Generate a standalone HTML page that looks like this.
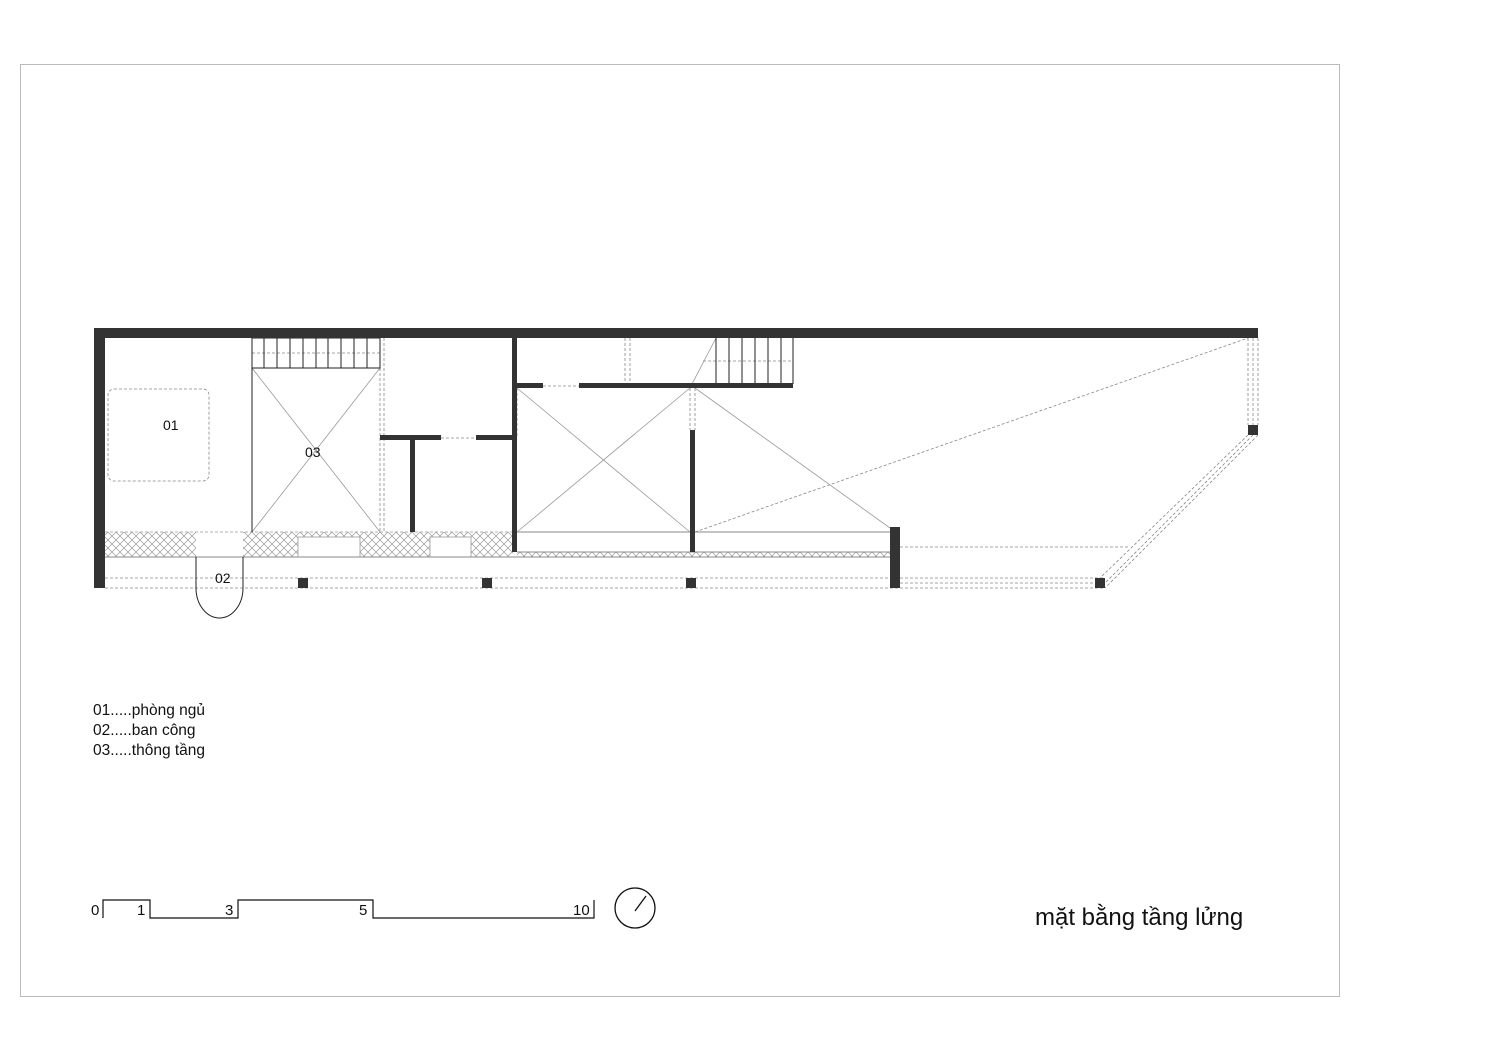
<!DOCTYPE html>
<html><head><meta charset="utf-8"><style>
html,body{margin:0;padding:0;background:#fff}
svg{display:block}
text{font-family:"Liberation Sans",sans-serif;fill:#111}
</style></head><body>
<svg width="1500" height="1060" viewBox="0 0 1500 1060" xmlns="http://www.w3.org/2000/svg">
<defs>
<pattern id="hx" width="8" height="8" patternUnits="userSpaceOnUse">
<path d="M0,0L8,8M8,0L0,8" stroke="#999" stroke-width="0.7"/>
</pattern>
</defs>
<rect x="20.5" y="64.5" width="1319" height="932" fill="none" stroke="#bbb"/>

<rect x="105" y="532" width="408" height="25" fill="url(#hx)"/>
<rect x="196" y="532" width="47" height="25" fill="#fff"/>
<rect x="298" y="537" width="62" height="20" fill="#fff" stroke="#999" stroke-width="0.8"/>
<rect x="430" y="537" width="41" height="20" fill="#fff" stroke="#999" stroke-width="0.8"/>
<rect x="517" y="552" width="373" height="5" fill="url(#hx)"/>
<line x1="105" y1="532" x2="513" y2="532" stroke="#999" stroke-dasharray="3,2" stroke-width="0.8"/>
<line x1="105" y1="557" x2="890" y2="557" stroke="#888" stroke-width="1"/>
<line x1="517" y1="532" x2="890" y2="532" stroke="#888" stroke-width="1"/>
<line x1="517" y1="552" x2="890" y2="552" stroke="#888" stroke-width="1"/>

<g stroke="#888" stroke-width="0.8" stroke-dasharray="3,2" fill="none">
<line x1="105" y1="578" x2="1105" y2="578"/>
<line x1="105" y1="588" x2="1105" y2="588"/>
<line x1="900" y1="583" x2="1100" y2="583"/>
<line x1="900" y1="547" x2="1130" y2="547"/>
<rect x="108" y="389" width="101" height="92" rx="6"/>
<line x1="380" y1="338" x2="380" y2="532"/>
<line x1="384" y1="338" x2="384" y2="532"/>
<line x1="513" y1="388" x2="513" y2="436"/>
<line x1="517" y1="388" x2="517" y2="436"/>
<line x1="625" y1="338" x2="625" y2="384"/>
<line x1="630" y1="338" x2="630" y2="384"/>
<line x1="690" y1="388" x2="690" y2="430"/>
<line x1="695" y1="388" x2="695" y2="430"/>
<line x1="441" y1="438" x2="476" y2="438"/>
<line x1="543" y1="386" x2="579" y2="386"/>
<line x1="695" y1="532" x2="1248" y2="338"/>
<line x1="1248" y1="338" x2="1248" y2="425"/>
<line x1="1253" y1="338" x2="1253" y2="425"/>
<line x1="1258" y1="338" x2="1258" y2="425"/>
<line x1="1248" y1="435" x2="1100" y2="578"/>
<line x1="1253" y1="435" x2="1105" y2="583"/>
<line x1="1258" y1="435" x2="1105" y2="588"/>
<line x1="252" y1="353" x2="380" y2="353"/>
<line x1="703" y1="361" x2="793" y2="361"/>
</g>

<g stroke="#999" stroke-width="0.8" fill="none">
<line x1="252" y1="368" x2="380" y2="532"/>
<line x1="380" y1="368" x2="252" y2="532"/>
<line x1="517" y1="388" x2="690" y2="532"/>
<line x1="690" y1="388" x2="517" y2="532"/>
<line x1="695" y1="388" x2="890" y2="528"/>
<line x1="692" y1="384" x2="716" y2="338"/>
</g>

<g stroke="#222" stroke-width="1" fill="none">
<rect x="252" y="338" width="128" height="30"/>
<line x1="252" y1="368" x2="252" y2="532"/>
<line x1="264" y1="338" x2="264" y2="368"/><line x1="277" y1="338" x2="277" y2="368"/>
<line x1="290" y1="338" x2="290" y2="368"/><line x1="303" y1="338" x2="303" y2="368"/>
<line x1="316" y1="338" x2="316" y2="368"/><line x1="328" y1="338" x2="328" y2="368"/>
<line x1="341" y1="338" x2="341" y2="368"/><line x1="354" y1="338" x2="354" y2="368"/>
<line x1="367" y1="338" x2="367" y2="368"/>
<line x1="716" y1="338" x2="716" y2="384"/><line x1="729" y1="338" x2="729" y2="384"/>
<line x1="742" y1="338" x2="742" y2="384"/><line x1="755" y1="338" x2="755" y2="384"/>
<line x1="768" y1="338" x2="768" y2="384"/><line x1="781" y1="338" x2="781" y2="384"/>
<line x1="793" y1="338" x2="793" y2="384"/>
<path d="M196,557 V588 A23.5,30 0 0 0 243,588 V557"/>
</g>

<g fill="#333">
<rect x="94" y="328" width="1164" height="10"/>
<rect x="94" y="328" width="11" height="260"/>
<rect x="380" y="435" width="61" height="5"/>
<rect x="476" y="435" width="41" height="5"/>
<rect x="410" y="440" width="5" height="92"/>
<rect x="512" y="338" width="5" height="214"/>
<rect x="512" y="383" width="31" height="5"/>
<rect x="579" y="383" width="214" height="5"/>
<rect x="690" y="430" width="5" height="122"/>
<rect x="890" y="527" width="10" height="61"/>
<rect x="298" y="578" width="10" height="10"/>
<rect x="482" y="578" width="10" height="10"/>
<rect x="686" y="578" width="10" height="10"/>
<rect x="1095" y="578" width="10" height="10"/>
<rect x="1248" y="425" width="10" height="10"/>
</g>

<text x="163" y="430" font-size="14">01</text>
<text x="305" y="457" font-size="14">03</text>
<text x="215" y="583" font-size="14">02</text>

<text x="93" y="715" font-size="15.5">01.....phòng ngủ</text>
<text x="93" y="735" font-size="15.5">02.....ban công</text>
<text x="93" y="755" font-size="15.5">03.....thông tầng</text>

<path d="M103,918 V900 H150 V918 H238 V900 H373 V918 H594 V900" fill="none" stroke="#111" stroke-width="1.2"/>
<text x="91" y="915" font-size="15">0</text>
<text x="137" y="915" font-size="15">1</text>
<text x="225" y="915" font-size="15">3</text>
<text x="359" y="915" font-size="15">5</text>
<text x="573" y="915" font-size="15">10</text>
<circle cx="635" cy="908" r="20" fill="none" stroke="#111" stroke-width="1.3"/>
<line x1="635" y1="911" x2="646" y2="896" stroke="#111" stroke-width="1.3"/>

<text x="1035" y="925" font-size="24">mặt bằng tầng lửng</text>
</svg>
</body></html>
